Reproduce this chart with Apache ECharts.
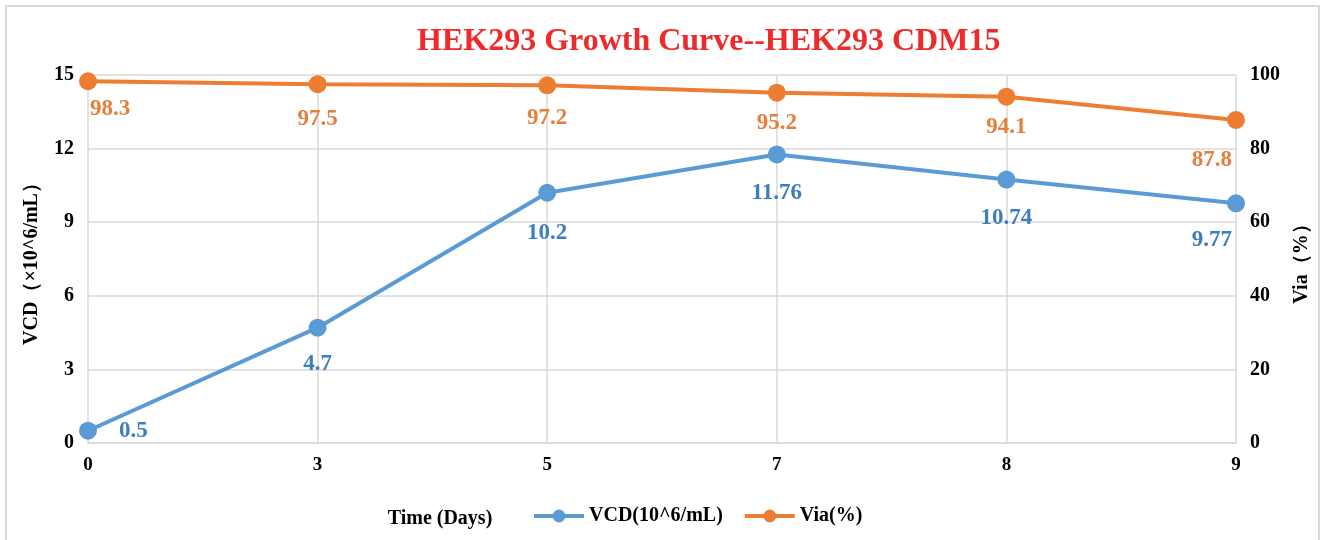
<!DOCTYPE html>
<html>
<head>
<meta charset="utf-8">
<title>HEK293 Growth Curve</title>
<script src="https://cdn.jsdelivr.net/npm/echarts@6/dist/echarts.min.js"></script>
<style>
  html, body { margin: 0; padding: 0; background: #fff; }
  #frame { position: absolute; left: 5px; top: 5px; width: 1311px; height: 560px; border: 2px solid #d9d9d9; }
  #chart { position: absolute; left: 0; top: 0; width: 1322px; height: 540px; }
</style>
</head>
<body>
<div id="frame"></div>
<div id="chart"></div>
<script>
// chart data
const days = ['0', '3', '5', '7', '8', '9'];
const vcd = [0.5, 4.7, 10.2, 11.76, 10.74, 9.77];
const via = [98.3, 97.5, 97.2, 95.2, 94.1, 87.8];

const serif = '"Liberation Serif", "Times New Roman", serif';
const blue = '#5B9BD5';
const orange = '#ED7D31';

// per-point label placement, roughly like Excel put them
const vcdLabels = [
  { position: 'right', distance: 22 },
  { position: 'bottom', distance: 16 },
  { position: 'bottom', distance: 20 },
  { position: 'bottom', distance: 18 },
  { position: 'bottom', distance: 18 },
  { position: 'bottom', distance: 16, align: 'right', offset: [-4, 0] }
];
const viaLabels = [
  { position: 'bottom', distance: 7, align: 'left', offset: [2, 0] },
  { position: 'bottom', distance: 14 },
  { position: 'bottom', distance: 12 },
  { position: 'bottom', distance: 10 },
  { position: 'bottom', distance: 10 },
  { position: 'bottom', distance: 20, align: 'right', offset: [-4, 0] }
];

const chart = echarts.init(document.getElementById('chart'));

const option = {
  backgroundColor: 'transparent',
  animation: false,
  title: {
    text: 'HEK293 Growth Curve--HEK293 CDM15',
    left: 412,
    top: 21,
    textStyle: { color: '#EE2A2A', fontFamily: serif, fontWeight: 'bold', fontSize: 32 }
  },
  legend: {
    bottom: 9,
    left: 527,
    itemWidth: 50,
    itemHeight: 16,
    itemGap: 20,
    lineStyle: { width: 4 },
    textStyle: { color: '#000', fontFamily: serif, fontWeight: 'bold', fontSize: 20 },
    data: ['VCD(10^6/mL)', 'Via(%)']
  },
  grid: { left: 88, right: 86, top: 75, bottom: 97 },
  xAxis: {
    type: 'category',
    data: days,
    boundaryGap: false,
    name: 'Time (Days)',
    nameLocation: 'middle',
    nameGap: 66,
    nameTextStyle: { color: '#000', fontFamily: serif, fontWeight: 'bold', fontSize: 20, padding: [0, 444, 0, 0] },
    axisLine: { lineStyle: { color: '#d9d9d9', width: 1.5 } },
    axisTick: { show: false },
    axisLabel: { color: '#000', fontFamily: serif, fontWeight: 'bold', fontSize: 19, margin: 13 },
    splitLine: { show: true, lineStyle: { color: '#d9d9d9', width: 1.5 } }
  },
  yAxis: [
    {
      type: 'value',
      min: 0,
      max: 15,
      interval: 3,
      name: 'VCD（×10^6/mL）',
      nameLocation: 'middle',
      nameRotate: 90,
      nameGap: 46,
      nameTextStyle: { color: '#000', fontFamily: serif, fontWeight: 'bold', fontSize: 20 },
      axisLine: { show: false },
      axisTick: { show: false },
      axisLabel: { color: '#000', fontFamily: serif, fontWeight: 'bold', fontSize: 20, margin: 14 },
      splitLine: { lineStyle: { color: '#d9d9d9', width: 1.5 } }
    },
    {
      type: 'value',
      min: 0,
      max: 100,
      interval: 20,
      name: 'Via（%）',
      nameLocation: 'middle',
      nameRotate: 90,
      nameGap: 56,
      nameTextStyle: { color: '#000', fontFamily: serif, fontWeight: 'bold', fontSize: 20 },
      axisLine: { show: false },
      axisTick: { show: false },
      axisLabel: { color: '#000', fontFamily: serif, fontWeight: 'bold', fontSize: 20, margin: 14 },
      splitLine: { show: false }
    }
  ],
  series: [
    {
      name: 'VCD(10^6/mL)',
      type: 'line',
      yAxisIndex: 0,
      symbol: 'circle',
      symbolSize: 18,
      color: blue,
      lineStyle: { width: 4, color: blue },
      itemStyle: { color: blue },
      label: {
        show: true,
        color: '#3D7EBF',
        fontFamily: serif,
        fontWeight: 'bold',
        fontSize: 23
      },
      data: vcd.map((v, i) => ({ value: v, label: vcdLabels[i] }))
    },
    {
      name: 'Via(%)',
      type: 'line',
      yAxisIndex: 1,
      symbol: 'circle',
      symbolSize: 18,
      color: orange,
      lineStyle: { width: 4, color: orange },
      itemStyle: { color: orange },
      label: {
        show: true,
        color: '#E57F3E',
        fontFamily: serif,
        fontWeight: 'bold',
        fontSize: 23
      },
      data: via.map((v, i) => ({ value: v, label: viaLabels[i] }))
    }
  ]
};

chart.setOption(option);

window.addEventListener('resize', () => {
  chart.resize();
});
</script>
</body>
</html>
